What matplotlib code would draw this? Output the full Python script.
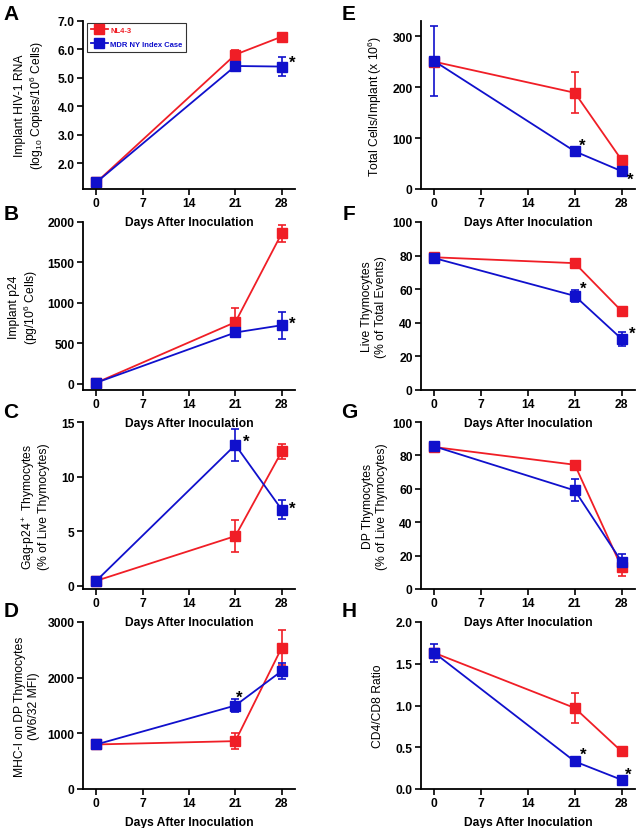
import matplotlib
matplotlib.use("Agg")
import matplotlib.pyplot as plt

plt.rcParams['font.family'] = ['Liberation Sans', 'DejaVu Sans']
plt.rcParams['mathtext.default'] = 'regular'

RED = '#f01e26'
BLUE = '#1010cc'

days = [0, 21, 28]
xticks = [0, 7, 14, 21, 28]

# A: implant HIV-1 RNA
a_nl = [1.33, 5.82, 6.45]
a_nl_err = [0.05, 0.15, 0.08]
a_mdr = [1.33, 5.42, 5.40]
a_mdr_err = [0.05, 0.08, 0.33]

# B: implant p24
b_nl = [10, 760, 1860]
b_nl_err = [10, 180, 108]
b_mdr = [10, 632, 722]
b_mdr_err = [10, 60, 168]

# C: Gag-p24+ thymocytes
c_nl = [0.45, 4.55, 12.3]
c_nl_err = [0.1, 1.5, 0.7]
c_mdr = [0.45, 12.9, 6.97]
c_mdr_err = [0.1, 1.5, 0.9]

# D: MHC-I on DP thymocytes
d_nl = [800, 860, 2540]
d_nl_err = [20, 140, 310]
d_mdr = [800, 1500, 2120]
d_mdr_err = [20, 120, 135]

# E: total cells/implant
e_nl = [250, 189, 57]
e_nl_err = [5, 40, 5]
e_mdr = [251, 74, 35]
e_mdr_err = [69, 8, 4]

# F: live thymocytes
f_nl = [79, 75.5, 47]
f_nl_err = [1, 1.5, 1.5]
f_mdr = [78.5, 56, 30.4]
f_mdr_err = [1, 3.5, 4]

# G: DP thymocytes
g_nl = [85, 74.4, 13]
g_nl_err = [1, 1.5, 5]
g_mdr = [85.4, 59, 16.4]
g_mdr_err = [1, 6.6, 4.6]

# H: CD4/CD8 ratio
h_nl = [1.63, 0.97, 0.45]
h_nl_err = [0.02, 0.18, 0.02]
h_mdr = [1.63, 0.33, 0.11]
h_mdr_err = [0.11, 0.03, 0.02]

panels = [
    # letter, nl, nl_err, mdr, mdr_err, ylim, yticks, ylabel, ylabel x (px), stars (day index, dx, dy in px)
    ('A', a_nl, a_nl_err, a_mdr, a_mdr_err, (1.1, 7.0), [2, 3, 4, 5, 6, 7],
     'Implant HIV-1 RNA\n(log$_{10}$ Copies/10$^6$ Cells)', 30, [(2, 10, 10)]),
    ('B', b_nl, b_nl_err, b_mdr, b_mdr_err, (-80, 2000), [0, 500, 1000, 1500, 2000],
     'Implant p24\n(pg/10$^6$ Cells)', 24, [(2, 10, 8)]),
    ('C', c_nl, c_nl_err, c_mdr, c_mdr_err, (-0.3, 15), [0, 5, 10, 15],
     'Gag-p24$^+$ Thymocytes\n(% of Live Thymocytes)', 35, [(1, 11, 9), (2, 10, 7)]),
    ('D', d_nl, d_nl_err, d_mdr, d_mdr_err, (0, 3000), [0, 1000, 2000, 3000],
     'MHC-I on DP Thymocytes\n(W6/32 MFI)', 27, [(1, 4, 14)]),
    ('E', e_nl, e_nl_err, e_mdr, e_mdr_err, (0, 330), [0, 100, 200, 300],
     'Total Cells/Implant (x 10$^6$)', 375, [(1, 7, 12), (2, 9, -3)]),
    ('F', f_nl, f_nl_err, f_mdr, f_mdr_err, (0, 100), [0, 20, 40, 60, 80, 100],
     'Live Thymocytes\n(% of Total Events)', 374, [(1, 8, 13), (2, 11, 11)]),
    ('G', g_nl, g_nl_err, g_mdr, g_mdr_err, (0, 100), [0, 20, 40, 60, 80, 100],
     'DP Thymocytes\n(% of Live Thymocytes)', 375, []),
    ('H', h_nl, h_nl_err, h_mdr, h_mdr_err, (0, 2.0), [0, 0.5, 1.0, 1.5, 2.0],
     'CD4/CD8 Ratio', 378, [(1, 8, 13), (2, 7, 11)]),
]

W, H = 638, 829
fig = plt.figure(figsize=(W / 100, H / 100), dpi=100)

col_x = [(83, 295), (421, 635)]
row_y = [(22, 190), (223, 391), (423, 590), (623, 790)]
letter_y = [14, 214, 413, 612]
letter_x = [11, 349]

for i, (letter, nl, nl_err, mdr, mdr_err, ylim, yt, ylabel, ylab_x, stars) in enumerate(panels):
    col = i // 4
    row = i % 4
    x0, x1 = col_x[col]
    y0, y1 = row_y[row]
    ax = fig.add_axes([x0 / W, 1 - y1 / H, (x1 - x0) / W, (y1 - y0) / H])
    ax.patch.set_visible(False)

    ax.errorbar(days, nl, yerr=nl_err, color=RED, marker='s', markersize=7.5,
                lw=1.3, capsize=2.6, capthick=1.2, elinewidth=1.2, label='NL4-3')
    ax.errorbar(days, mdr, yerr=mdr_err, color=BLUE, marker='s', markersize=7.5,
                lw=1.3, capsize=2.6, capthick=1.2, elinewidth=1.2, label='MDR NY Index Case')

    for idx, dx, dy in stars:
        ax.annotate('*', (days[idx], mdr[idx]), xytext=(dx * 0.72, dy * 0.72 - 4),
                    textcoords='offset points', ha='center', va='center',
                    fontsize=12, fontweight='bold', color='black')

    ax.set_xlim(-2, 30)
    ax.set_ylim(*ylim)
    ax.set_xticks(xticks)
    ax.set_yticks(yt)
    if letter in ('A', 'H'):
        ax.set_yticklabels(['%.1f' % v for v in yt])
    for s in ['top', 'right']:
        ax.spines[s].set_visible(False)
    for s in ['left', 'bottom']:
        ax.spines[s].set_linewidth(1.3)
    ax.tick_params(width=1.2, length=4, labelsize=8.7, pad=2)
    for lab in ax.get_xticklabels() + ax.get_yticklabels():
        lab.set_fontweight('bold')
    ax.set_xlabel('Days After Inoculation', fontsize=8.7, fontweight='bold', labelpad=5)
    ax.set_ylabel(ylabel, fontsize=8.7, linespacing=1.15, va='center', ha='center')
    ax.yaxis.set_label_coords((ylab_x - x0) / (x1 - x0), 0.5)

    fig.text(letter_x[col] / W, 1 - letter_y[row] / H, letter, fontsize=15,
             fontweight='bold', ha='center', va='center')

    if letter == 'A':
        leg = ax.legend(loc='upper left', bbox_to_anchor=(0.02, 0.99), fontsize=5.5,
                        frameon=True, fancybox=False, handlelength=2.2,
                        borderpad=0.5, labelspacing=0.9, handletextpad=0.3,
                        borderaxespad=0)
        leg.get_frame().set_edgecolor('black')
        leg.get_frame().set_linewidth(0.8)
        for txt, c in zip(leg.get_texts(), [RED, BLUE]):
            txt.set_color(c)
            txt.set_fontweight('bold')

fig.savefig('out.png', dpi=100)
